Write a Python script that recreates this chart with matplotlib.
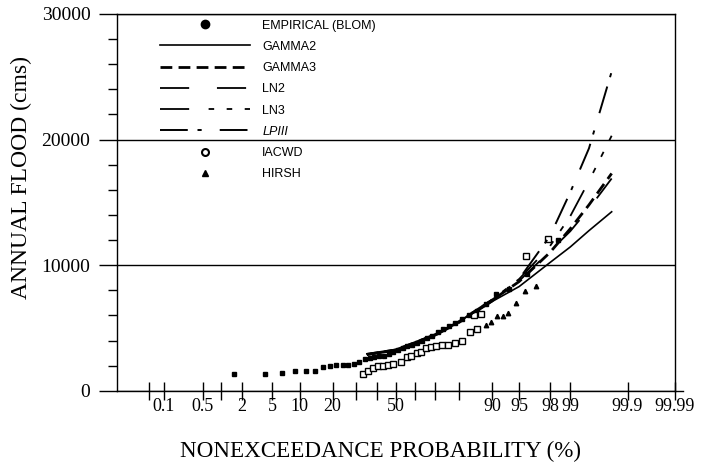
from statistics import NormalDist

import numpy as np
import matplotlib
matplotlib.use("Agg")
import matplotlib.pyplot as plt
from matplotlib.lines import Line2D
from matplotlib.ticker import MultipleLocator

plt.rcParams['lines.scale_dashes'] = False

# ---- data (probability in %, flood in cms) ----
blom_prob = [1.55, 4.04, 6.52, 9.01, 11.49, 13.98, 16.46, 18.94, 21.43, 23.91,
             26.40, 28.88, 31.37, 33.85, 36.34, 38.82, 41.30, 43.79, 46.27, 48.76,
             51.24, 53.73, 56.21, 58.70, 61.18, 63.66, 66.15, 68.63, 71.12, 73.60,
             76.09, 78.57, 81.06, 83.54, 86.02, 88.51, 90.99, 93.48, 95.96, 98.45]
blom_flood = [1350, 1350, 1450, 1610, 1610, 1610, 1900, 1980, 2040, 2040,
              2090, 2120, 2300, 2540, 2600, 2720, 2780, 2780, 2940, 3120,
              3250, 3400, 3550, 3650, 3800, 4000, 4200, 4400, 4650, 4900,
              5150, 5400, 5700, 6000, 6350, 6900, 7700, 8100, 9300, 11980]

iacwd_prob = [33.1, 35.6, 38.1, 40.7, 43.3, 45.9, 48.6, 53.0, 55.7, 58.3,
              60.9, 63.4, 65.6, 68.2, 70.6, 73.3, 75.7, 78.5, 81.0, 83.8,
              85.1, 86.2, 87.1, 95.9, 97.9]
iacwd_flood = [1350, 1590, 1850, 1950, 2000, 2060, 2120, 2330, 2670, 2800,
               3000, 3130, 3400, 3470, 3540, 3620, 3680, 3810, 3950, 4650,
               6030, 4900, 6110, 10700, 12050]

hirsh_prob = [88.5, 89.8, 91.1, 92.3, 93.3, 94.6, 95.75, 96.9]
hirsh_flood = [5240, 5500, 5950, 5950, 6170, 7010, 7940, 8330]

fit_prob = [35, 50, 70, 80, 90, 95, 98, 99, 99.5, 99.8]
gamma2 = [2950, 3300, 4500, 5500, 7100, 8300, 10200, 11450, 12750, 14250]
gamma3 = [2900, 3250, 4450, 5500, 7200, 8700, 11000, 12900, 14800, 17300]
ln2 = [2900, 3250, 4500, 5550, 7250, 8750, 11100, 12700, 14500, 16900]
ln3 = [2850, 3200, 4450, 5500, 7250, 8900, 11500, 13900, 16700, 20300]
lp3 = [2900, 3250, 4400, 5400, 7100, 8900, 12300, 15800, 19300, 25400]

xtick_major = [0.1, 0.5, 2, 5, 10, 20, 50, 90, 95, 98, 99, 99.9, 99.99]
xtick_labels = ['0.1', '0.5', '2', '5', '10', '20', '50', '90', '95', '98', '99', '99.9', '99.99']
xtick_minor = [0.05, 1, 30, 40, 60, 70, 80]

# normal probability scale
_nd = NormalDist()


def prob_to_z(p):
    p = np.clip(np.asarray(p, dtype=float) / 100.0, 1e-9, 1 - 1e-9)
    return np.vectorize(_nd.inv_cdf, otypes=[float])(p)


def z_to_prob(z):
    return 100.0 * np.vectorize(_nd.cdf, otypes=[float])(np.asarray(z, dtype=float))


fig = plt.figure(figsize=(7.08, 4.62), dpi=100)
ax = fig.add_axes([0.165, 0.154, 0.788, 0.816])
ax.set_xscale('function', functions=(prob_to_z, z_to_prob))

styles = {
    'GAMMA2': dict(ls='-', lw=1.2),
    'GAMMA3': dict(ls=(0, (8.5, 4.5)), lw=2.0),
    'LN2': dict(ls=(0, (21, 20)), lw=1.3),
    'LN3': dict(ls=(0, (21, 14, 4, 9, 4, 9)), lw=1.3),
    'LPIII': dict(ls=(0, (20, 7, 3, 13)), lw=1.4),
}

ax.plot(blom_prob, blom_flood, 's', color='black', ms=3.5, ls='none')
ax.plot(iacwd_prob, iacwd_flood, 's', mfc='white', mec='black', mew=1.0, ms=3.8, ls='none')
ax.plot(hirsh_prob, hirsh_flood, '^', color='black', ms=3.2, ls='none')
for name, vals in [('GAMMA2', gamma2), ('GAMMA3', gamma3), ('LN2', ln2),
                   ('LN3', ln3), ('LPIII', lp3)]:
    ax.plot(fit_prob, vals, color='black', **styles[name])

ax.set_xlim(0.01, 99.99)
ax.set_ylim(0, 30000)
ax.set_xticks(xtick_major, xtick_labels)
ax.set_xticks(xtick_minor, minor=True)
ax.set_yticks([0, 10000, 20000, 30000])
ax.yaxis.set_minor_locator(MultipleLocator(2000))
ax.yaxis.grid(True, which='major', color='black', lw=1.0)

ax.tick_params(axis='x', which='both', direction='inout', length=13, width=1.0,
               pad=-1.5, labelsize=13)
ax.tick_params(axis='y', which='major', direction='out', length=13, width=1.0,
               pad=6, labelsize=14)
ax.tick_params(axis='y', which='minor', direction='out', length=6.5, width=1.0)
for lab in ax.get_xticklabels() + ax.get_yticklabels():
    lab.set_family('Liberation Serif')

for sp in ax.spines.values():
    sp.set_linewidth(1.0)
# the x axis line runs a little past the right frame
ax.plot([1.0, 1.014], [0, 0], transform=ax.transAxes, color='black', lw=1.0, clip_on=False)

ax.set_xlabel('NONEXCEEDANCE PROBABILITY (%)', family='Liberation Serif', fontsize=16.6)
ax.set_ylabel('ANNUAL FLOOD (cms)', family='Liberation Serif', fontsize=17)
ax.xaxis.set_label_coords(0.472, -0.133)
ax.yaxis.set_label_coords(-0.152, 0.567)

handles = [
    Line2D([], [], ls='none', marker='o', color='black', ms=6),
    Line2D([], [], color='black', **styles['GAMMA2']),
    Line2D([], [], color='black', **styles['GAMMA3']),
    Line2D([], [], color='black', **styles['LN2']),
    Line2D([], [], color='black', **styles['LN3']),
    Line2D([], [], color='black', **styles['LPIII']),
    Line2D([], [], ls='none', marker='o', mfc='white', mec='black', mew=1.5, ms=5),
    Line2D([], [], ls='none', marker='^', color='black', ms=4),
]
labels = ['EMPIRICAL (BLOM)', 'GAMMA2', 'GAMMA3', 'LN2', 'LN3', 'LPIII', 'IACWD', 'HIRSH']
leg = ax.legend(handles, labels, loc='upper left', bbox_to_anchor=(0.077, 0.985),
                frameon=False, prop={'family': 'Liberation Sans', 'size': 9},
                handlelength=7.2, handletextpad=1.0, labelspacing=0.74,
                borderpad=0, borderaxespad=0, numpoints=1)
leg.get_texts()[5].set_style('italic')

fig.savefig('out.png', dpi=100)
